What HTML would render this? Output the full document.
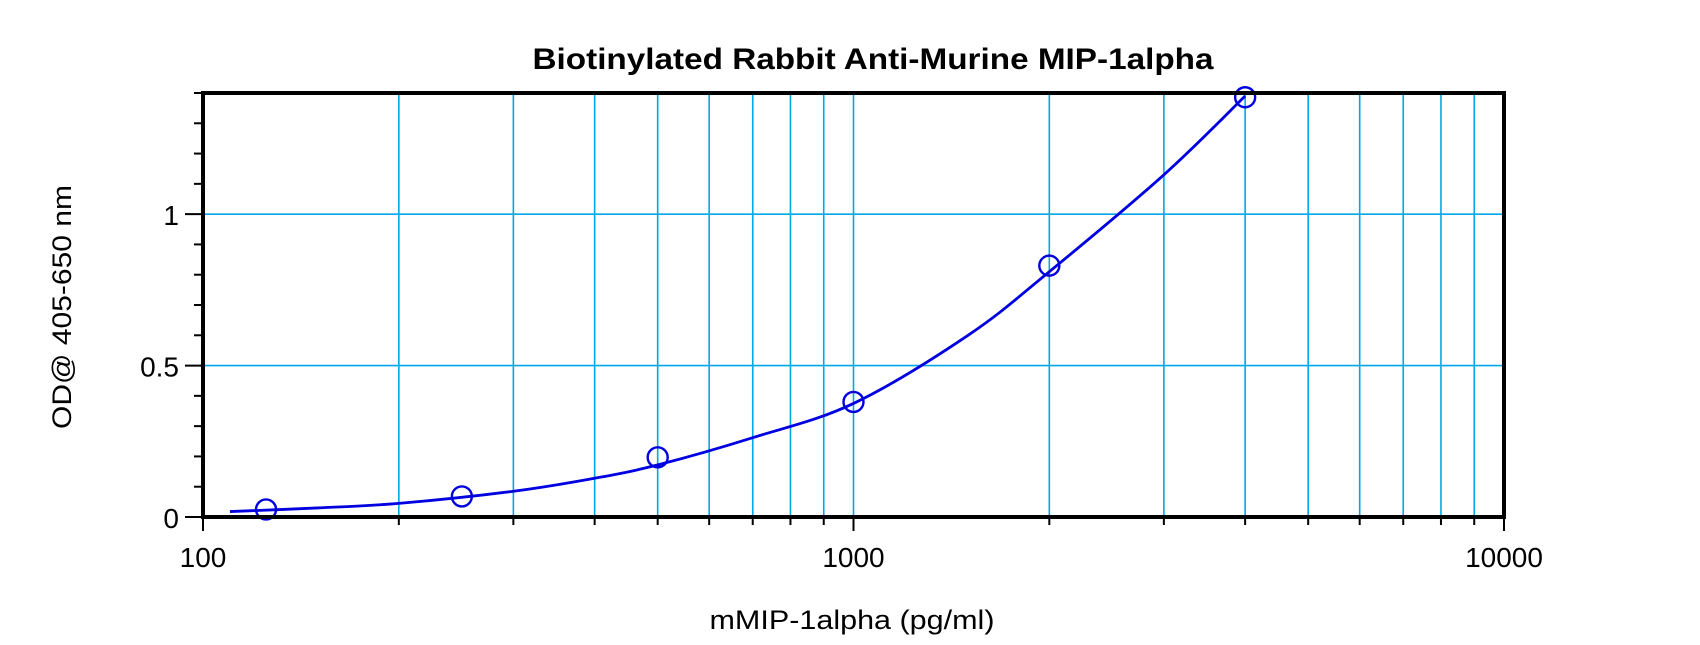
<!DOCTYPE html>
<html><head><meta charset="utf-8"><style>
body{margin:0;background:#fff;}
svg text{font-family:"Liberation Sans",Arial,sans-serif;}
</style></head><body>
<svg id="chart" width="1700" height="640" xmlns="http://www.w3.org/2000/svg">
<rect width="1700" height="640" fill="#fff"/>
<g id="grid"></g>
<g id="ticks"></g>
<g id="series"></g>
<rect x="203" y="93" width="1301" height="424" fill="none" stroke="#000" stroke-width="4"/>
<text x="873" y="69" font-size="30" font-weight="bold" text-anchor="middle" textLength="681" lengthAdjust="spacingAndGlyphs">Biotinylated Rabbit Anti-Murine MIP-1alpha</text>
<text x="852" y="629" font-size="27" text-anchor="middle" textLength="285" lengthAdjust="spacingAndGlyphs">mMIP-1alpha (pg/ml)</text>
<text transform="translate(71,307) rotate(-90)" font-size="27" text-anchor="middle" textLength="244" lengthAdjust="spacingAndGlyphs">OD@ 405-650 nm</text>
<g id="labels"></g>
</svg>
<script>
const xTickValues=[100,1000,10000];
const xTickLabels=["100","1000","10000"];
const yTickValues=[0,0.5,1];
const yTickLabels=["0","0.5","1"];
const pointX=[125,250,500,1000,2000,4000];
const pointY=[0.025,0.068,0.197,0.38,0.83,1.386];
const curveX=[110,150,200,300,400,500,700,1000,1500,2000,3000,4000];
const curveY=[0.018,0.03,0.045,0.085,0.128,0.172,0.262,0.375,0.6,0.81,1.13,1.39];

const L=203,R=1504,T=93,B=517;
function xs(v){return L+(R-L)*(Math.log10(v)-2)/2;}
function ys(v){return B-(B-T)*v/1.4;}
const NS="http://www.w3.org/2000/svg";
function mk(tag,attrs,parent){const e=document.createElementNS(NS,tag);for(const k in attrs)e.setAttribute(k,attrs[k]);parent.appendChild(e);return e;}
const grid=document.getElementById('grid'),ticks=document.getElementById('ticks'),series=document.getElementById('series'),labels=document.getElementById('labels');
for(let d=100;d<10000;d*=10){for(let m=1;m<10;m++){const v=d*m;const x=xs(v);
 if(m>1||v===1000){const g=mk('line',{x1:x,x2:x,y1:T,y2:B,stroke:'#00a8e8','stroke-width':1.6},grid);
  
  }
 const t=mk('line',{x1:x,x2:x,y1:B,y2:B+(m===1?14:8),stroke:'#000','stroke-width':2},ticks);
 
 }}
mk('line',{x1:R,x2:R,y1:B,y2:B+14,stroke:'#000','stroke-width':2},ticks);
for(let i=1;i<=14;i++){const v=i/10;const y=ys(v);const major=(i%5===0);
 if(major){const g=mk('line',{x1:L,x2:R,y1:y,y2:y,stroke:'#00a8e8','stroke-width':1.6},grid);
  
  }
 const t=mk('line',{x1:L-(major?18:9),x2:L,y1:y,y2:y,stroke:'#000','stroke-width':2},ticks);
 
 }
mk('line',{x1:L-18,x2:L,y1:B,y2:B,stroke:'#000','stroke-width':2},ticks);
xTickValues.forEach((v,i)=>{const t=mk('text',{x:xs(v),y:567,'font-size':28,'text-anchor':'middle'},labels);t.textContent=xTickLabels[i];
 
 });
yTickValues.forEach((v,i)=>{const t=mk('text',{x:L-24,y:ys(v)+11,'font-size':28,'text-anchor':'end'},labels);t.textContent=yTickLabels[i];
 
 });
// smooth curve via Catmull-Rom
const P=curveX.map((v,i)=>[xs(v),ys(curveY[i])]);
let d='M'+P[0][0]+','+P[0][1];
for(let i=0;i<P.length-1;i++){const p0=P[Math.max(0,i-1)],p1=P[i],p2=P[i+1],p3=P[Math.min(P.length-1,i+2)];
 d+=' C'+(p1[0]+(p2[0]-p0[0])/6)+','+(p1[1]+(p2[1]-p0[1])/6)+' '+(p2[0]-(p3[0]-p1[0])/6)+','+(p2[1]-(p3[1]-p1[1])/6)+' '+p2[0]+','+p2[1];}
const c=mk('path',{d:d,fill:'none',stroke:'#0000e0','stroke-width':2.8},series);


pointX.forEach((v,i)=>{const p=mk('circle',{cx:xs(v),cy:ys(pointY[i]),r:10,fill:'none',stroke:'#0000e0','stroke-width':2.4},series);
 
 });
</script>
</body></html>
